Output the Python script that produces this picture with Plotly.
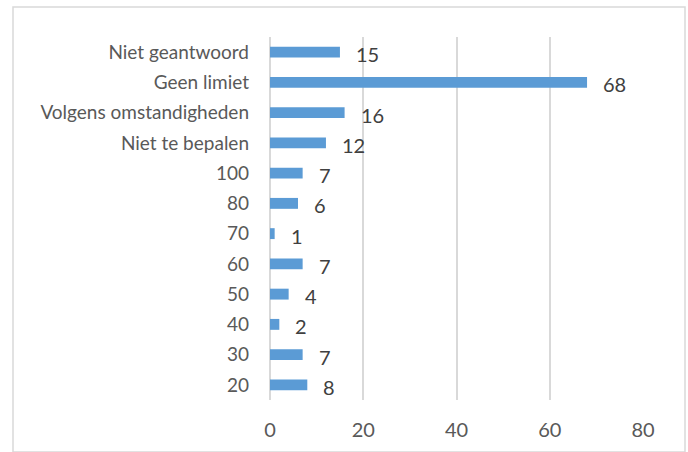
import plotly.graph_objects as go

categories = ["20", "30", "40", "50", "60", "70", "80", "100",
              "Niet te bepalen", "Volgens omstandigheden", "Geen limiet", "Niet geantwoord"]
values = [8, 7, 2, 4, 7, 1, 6, 7, 12, 16, 68, 15]
x_ticks = [0, 20, 40, 60, 80]

W, H = 688, 452
ml, mr, mt, mb = 270, 45, 37, 52
pw, ph = W - ml - mr, H - mt - mb

fig = go.Figure(go.Bar(
    x=values, y=categories, orientation="h",
    marker=dict(color="#5b9bd5", line=dict(width=0)),
    width=0.36, hoverinfo="x+y",
))

for i, v in enumerate(values):
    fig.add_annotation(x=v, y=i, text=str(v), showarrow=False,
                       xanchor="left", yanchor="middle", xshift=14, yshift=-2,
                       font=dict(size=20, color="#404040", family="Lato"))

# outer frame
fig.add_shape(type="rect", xref="paper", yref="paper",
              x0=(13 - ml) / pw, x1=(685 - ml) / pw,
              y0=(H - mb - 452) / ph, y1=(H - mb - 7) / ph,
              line=dict(color="#d9d9d9", width=1.5), layer="below")

fig.update_layout(
    width=W, height=H, margin=dict(l=ml, r=mr, t=mt, b=mb, autoexpand=False),
    paper_bgcolor="white", plot_bgcolor="white",
    showlegend=False,
    font=dict(family="Lato", size=19, color="#595959"),
    xaxis=dict(range=[0, 80], tickvals=x_ticks, showgrid=True, automargin=False,
               gridcolor="#d9d9d9", gridwidth=1.5, zeroline=True,
               zerolinecolor="#d9d9d9", zerolinewidth=1.5,
               ticks="", ticklabelstandoff=16, showline=False,
               tickfont=dict(size=20)),
    yaxis=dict(type="category", categoryorder="array", categoryarray=categories,
               range=[-0.5, len(categories) - 0.5], automargin=False,
               ticks="", ticklabelstandoff=20, showgrid=False, showline=False),
)

fig.write_html("out.html")
